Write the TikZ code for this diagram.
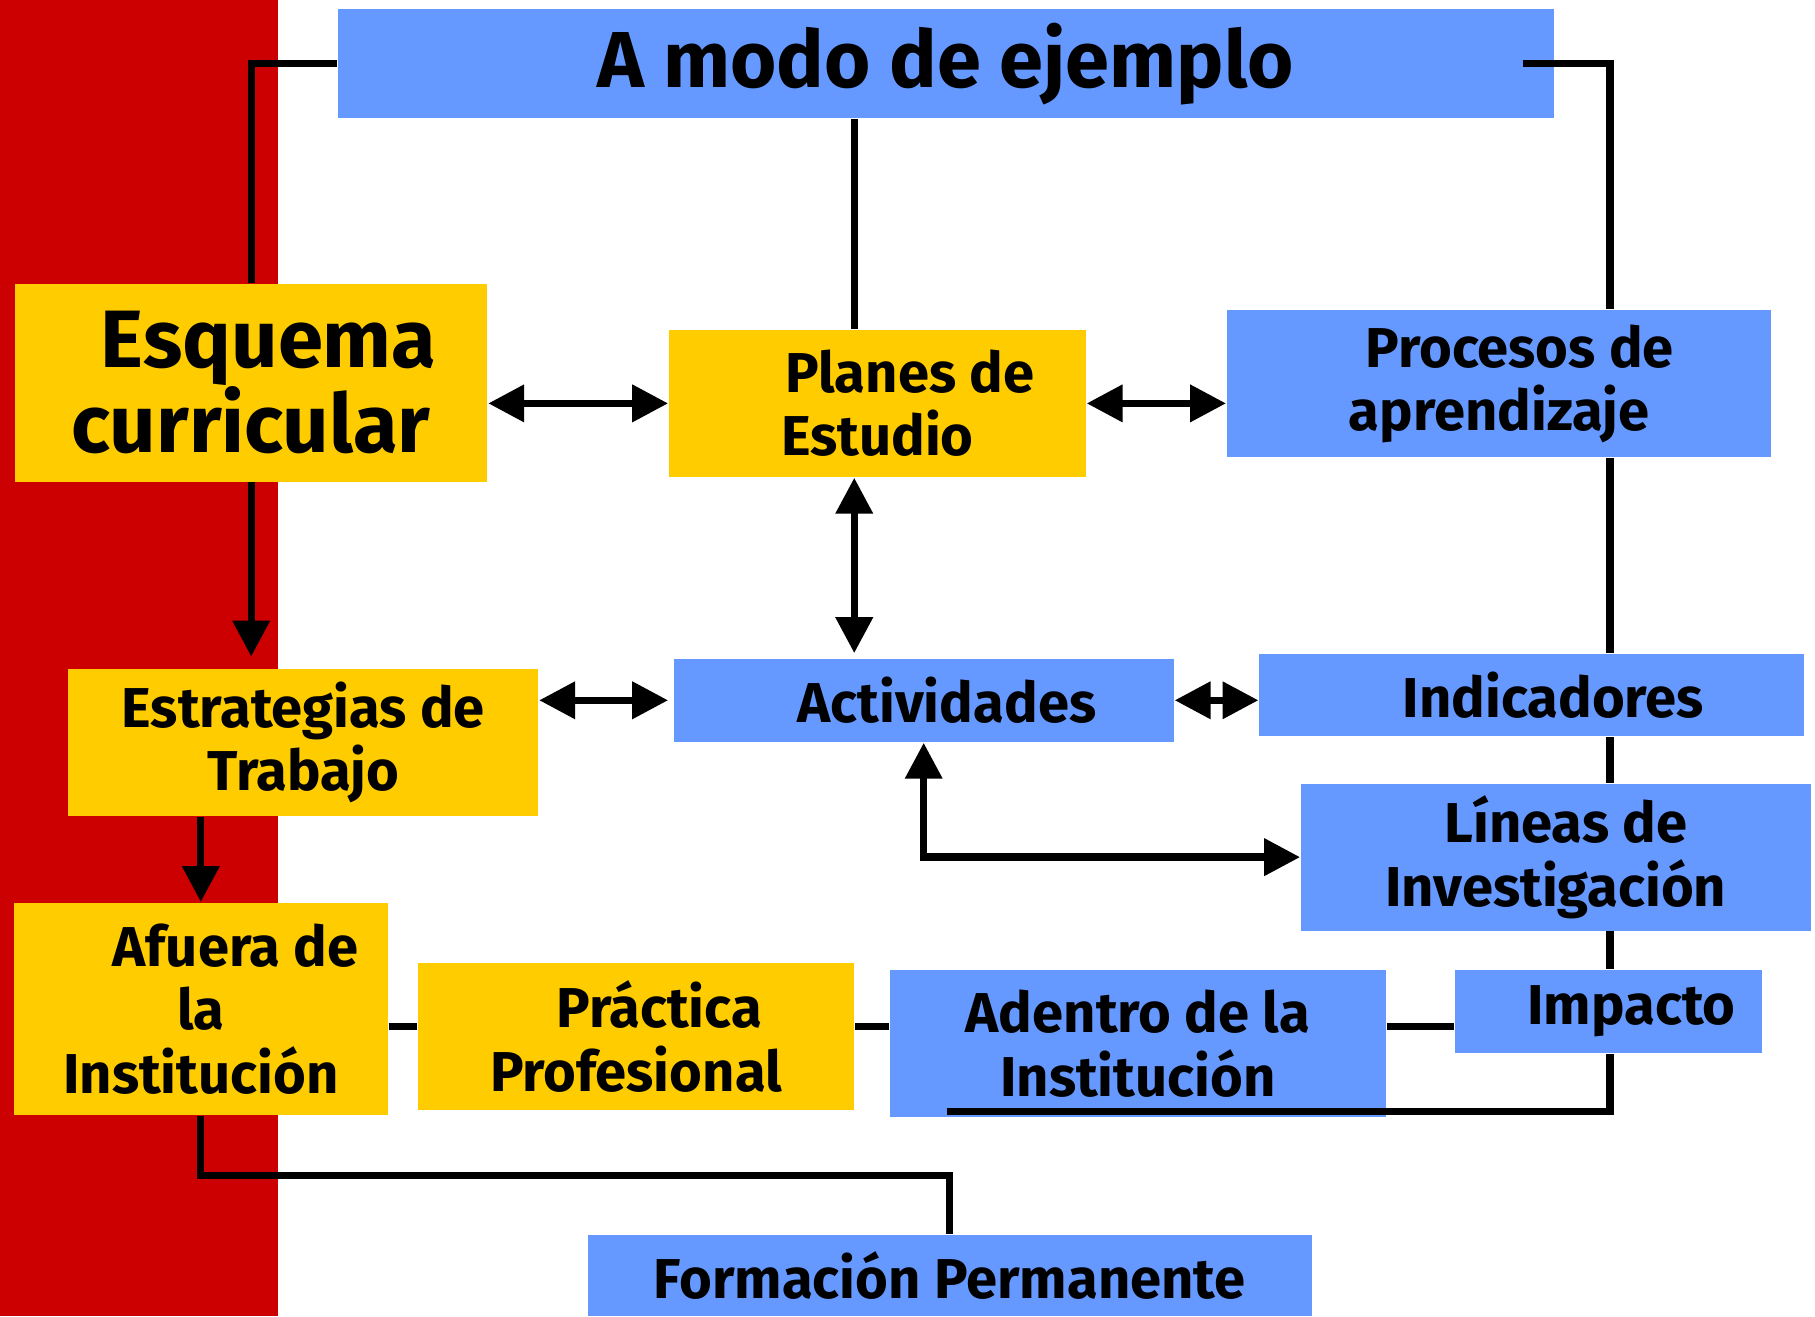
\documentclass[tikz,border=0pt]{standalone}
\usepackage{fontspec}
\setmainfont{Fira Sans}
\usetikzlibrary{arrows.meta}
\definecolor{azul}{HTML}{6699FF}
\definecolor{amarillo}{HTML}{FFCC00}
\definecolor{rojo}{HTML}{CC0000}

\begin{document}
\begin{tikzpicture}[x=0.01cm, y=-0.01cm, >={Triangle[length=0.31cm,width=0.31cm]}]

    % estilos
    \tikzstyle{azulbox}=[rectangle, fill=azul, inner sep=0pt, align=center, font=\fontsize{13.8}{15.6}\selectfont\bfseries]
    \tikzstyle{amarbox}=[rectangle, fill=amarillo, inner sep=0pt, align=center, font=\fontsize{13.8}{15.6}\selectfont\bfseries]
    \tikzstyle{linea}=[line width=1.8pt]
    \tikzstyle{doble}=[<->, line width=1.8pt]
    \tikzstyle{simple}=[->, line width=1.8pt]

    \useasboundingbox (0,0) rectangle (1568,1137);

    % franja roja
    \fill[rojo] (0,0) rectangle (240,1137);

    % coordenadas auxiliares
    \coordinate (eje) at (738,0);
    \coordinate (spine) at (1391,0);
    \coordinate (fila) at (0,887);
    \coordinate (fin) at (818,960);

    %======================= CAJAS =======================
    \node[azulbox, minimum width=10.5cm, minimum height=0.94cm, font=\fontsize{19.5}{24}\selectfont\bfseries] (ttl) at (817,55) {A modo de ejemplo};

    \node[amarbox, minimum width=4.08cm, minimum height=1.71cm, font=\fontsize{20}{21}\selectfont\bfseries] (esq) at (217,330.5) {\hspace*{0.3cm}Esquema\\curricular};
    \node[amarbox, minimum width=3.60cm, minimum height=1.27cm] (pla) at (758,348.5) {\hspace*{0.56cm}Planes de\\Estudio};
    \node[azulbox, minimum width=4.70cm, minimum height=1.27cm] (pro) at (1295,331.5) {\hspace*{0.36cm}Procesos de\\aprendizaje};

    \node[amarbox, minimum width=4.06cm, minimum height=1.27cm] (est) at (262,641.5) {Estrategias de\\Trabajo};
    \node[azulbox, minimum width=4.32cm, minimum height=0.72cm] (act) at (798,605) {\hspace*{0.4cm}Actividades};
    \node[azulbox, minimum width=4.70cm, minimum height=0.71cm] (ind) at (1323,600.5) {\hspace*{0.38cm}Indicadores};
    \node[azulbox, minimum width=4.40cm, minimum height=1.27cm] (lin) at (1344,740.5) {\hspace*{0.18cm}Líneas de\\Investigación};

    \node[amarbox, minimum width=3.23cm, minimum height=1.83cm] (afu) at (173.5,871.5) {\hspace*{0.6cm}Afuera de\\la\\Institución};
    \node[amarbox, minimum width=3.77cm, minimum height=1.27cm] (pra) at (549.5,895.5) {\hspace*{0.4cm}Práctica\\Profesional};
    \node[azulbox, minimum width=4.28cm, minimum height=1.27cm] (ade) at (983,901.5) {Adentro de la\\Institución};
    \node[azulbox, minimum width=2.65cm, minimum height=0.72cm] (imp) at (1389.5,874) {\hspace*{0.4cm}Impacto};

    \node[azulbox, minimum width=6.25cm, minimum height=0.70cm] (frm) at (820.5,1102) {Formación Permanente};

    %======================= CONEXIONES =======================
    % desde el título
    \draw[linea] (ttl.west) -| (esq.north);
    \draw[linea] (ttl.south -| eje) -- (pla.north -| eje);
    \draw[linea] ([xshift=-0.27cm]ttl.east) -| (pro.north -| spine);

    % columna derecha
    \draw[linea] (pro.south -| spine) -- (ind.north -| spine);
    \draw[linea] (ind.south -| spine) -- (lin.north -| spine);
    \draw[linea] (lin.south -| spine) -- (imp.north -| spine);
    \draw[linea] (imp.south -| spine) |- (fin);

    % flechas dobles
    \draw[doble] (esq.east |- pla.west) -- (pla.west);
    \draw[doble] (pla.east) -- (pro.west |- pla.east);
    \draw[doble, shorten >=0.04cm] (pla.south -| eje) -- (act.north -| eje);
    \draw[doble] (est.east |- act.west) -- ([xshift=-0.04cm]act.west);
    \draw[doble] (act.east) -- (ind.west |- act.east);
    \draw[doble] (act.south) |- (lin.west);

    % columna izquierda
    \draw[simple, shorten >=0.1cm] (esq.south) -- (esq.south |- est.north);
    \draw[simple] (est.south -| afu.north) -- (afu.north);

    % fila inferior
    \draw[linea] (afu.east |- fila) -- (pra.west |- fila);
    \draw[linea] (pra.east |- fila) -- (ade.west |- fila);
    \draw[linea] (ade.east |- fila) -- (imp.west |- fila);
    \draw[linea] (afu.south) -- ++(0,52) -| (frm.north);

\end{tikzpicture}
\end{document}
